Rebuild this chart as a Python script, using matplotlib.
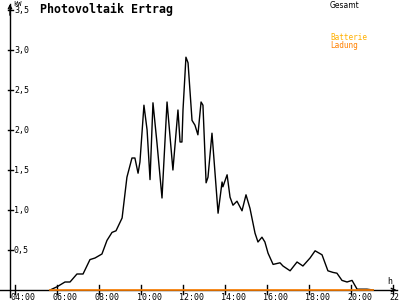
import matplotlib
matplotlib.use("Agg")
import matplotlib.pyplot as plt

# Photovoltaik Ertrag, time in hours, power in kW
hours = [5.67, 6.00, 6.38, 6.62, 6.95, 7.24, 7.57, 7.81, 8.14, 8.38, 8.62, 8.81,
         9.10, 9.33, 9.57, 9.71, 9.86, 9.95, 10.14, 10.29, 10.43, 10.57, 10.76,
         11.00, 11.24, 11.52, 11.76, 11.86, 11.95, 12.00, 12.14, 12.24, 12.43,
         12.57, 12.71, 12.86, 12.95, 13.10, 13.19, 13.38, 13.43, 13.67, 13.86,
         13.90, 14.10, 14.24, 14.38, 14.57, 14.81, 15.00, 15.19, 15.43, 15.57,
         15.76, 15.90, 16.05, 16.29, 16.62, 16.76, 17.10, 17.43, 17.71, 18.05,
         18.29, 18.62, 18.90, 19.14, 19.33, 19.57, 19.81, 20.05, 20.29, 20.76,
         21.05]
gesamt = [0.00, 0.04, 0.10, 0.10, 0.20, 0.20, 0.38, 0.40, 0.45, 0.62, 0.72, 0.74,
          0.90, 1.41, 1.65, 1.65, 1.46, 1.60, 2.31, 2.00, 1.38, 2.34, 1.84,
          1.15, 2.35, 1.50, 2.25, 1.85, 1.85, 2.25, 2.91, 2.84, 2.12,
          2.06, 1.94, 2.35, 2.31, 1.34, 1.41, 1.96, 1.79, 0.96, 1.35,
          1.29, 1.44, 1.16, 1.06, 1.11, 0.99, 1.19, 1.02, 0.71, 0.60,
          0.66, 0.60, 0.46, 0.32, 0.34, 0.30, 0.24, 0.35, 0.30, 0.40,
          0.49, 0.44, 0.24, 0.22, 0.21, 0.12, 0.10, 0.12, 0.01, 0.01,
          0.00]
ladung = [0.0] * len(hours)

yticks = [0.5, 1.0, 1.5, 2.0, 2.5, 3.0, 3.5]
ytick_labels = ["0,5", "1,0", "1,5", "2,0", "2,5", "3,0", "3,5"]
xticks = [4, 6, 8, 10, 12, 14, 16, 18, 20, 22]
xtick_labels = ["04:00", "06:00", "08:00", "10:00", "12:00", "14:00",
                "16:00", "18:00", "20:00", "22:00"]

mono = "DejaVu Sans Mono"

fig = plt.figure(figsize=(4, 3), dpi=100)
ax = fig.add_axes([0, 0, 1, 1])
ax.set_xlim(3.286, 22.333)
ax.set_ylim(-0.125, 3.625)
ax.axis("off")

# pixel helpers: 21 px per hour, 80 px per kW
px = 1 / 21.0
py = 1 / 80.0
x0 = 4 - 5 * px  # y axis position

# axes lines with arrows
ax.plot([3.286, 22.2], [0, 0], color="black", lw=1, zorder=2)
ax.annotate("", xy=(22.28, 0), xytext=(21.9, 0),
            arrowprops=dict(arrowstyle="->", color="black", lw=1, mutation_scale=6))
ax.plot([x0, x0], [-7 * py, 3.57], color="black", lw=1, zorder=2)
ax.annotate("", xy=(x0, 3.61), xytext=(x0, 3.4),
            arrowprops=dict(arrowstyle="->", color="black", lw=1, mutation_scale=6))

for v, lab in zip(yticks, ytick_labels):
    ax.plot([x0 - 2 * px, x0 + 3 * px], [v, v], color="black", lw=1)
    ax.text(x0 + 4 * px, v, lab, fontsize=6, family=mono, ha="left", va="center")
ax.text(x0 + 3 * px, 3.57, "kW", fontsize=5, family=mono, ha="left", va="center")

for t, lab in zip(xticks, xtick_labels):
    ax.plot([t, t], [-4 * py, 5 * py], color="black", lw=1)
    ax.text(t - 4 * px, -7 * py, lab, fontsize=6, family=mono, ha="left", va="center")
ax.text(22.33 - 13 * px, 9 * py, "h", fontsize=6, family=mono, ha="left", va="center")

ax.plot(hours, gesamt, color="black", lw=1, zorder=3)
ax.plot(hours, ladung, color="#ff8000", lw=1.2, zorder=4)

fig.text(40 / 400, 1 - 9 / 300, "Photovoltaik Ertrag", fontsize=8.4, family=mono,
         weight="bold", ha="left", va="center")
fig.text(330 / 400, 1 - 5 / 300, "Gesamt", fontsize=5.5, ha="left", va="center")
fig.text(330 / 400, 1 - 37 / 300, "Batterie", fontsize=5.5, family=mono,
         color="#ffb000", ha="left", va="center")
fig.text(330 / 400, 1 - 45 / 300, "Ladung", fontsize=5.5, family=mono,
         color="#ff8000", ha="left", va="center")

fig.savefig("out.png", dpi=100)
